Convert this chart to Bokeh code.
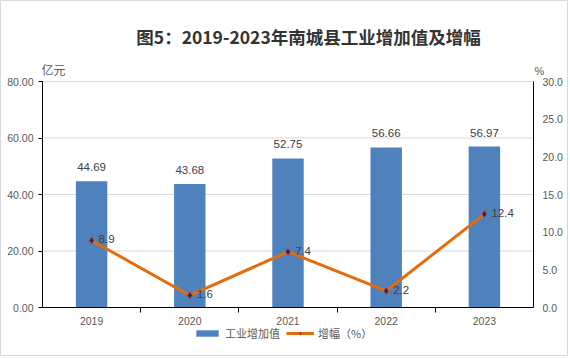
from bokeh.plotting import figure
from bokeh.models import (Range1d, LinearAxis, FixedTicker, Label, Legend, LegendItem,
                          ColumnDataSource, LabelSet)
from bokeh.embed import file_html
from bokeh.resources import INLINE
from bokeh.core.properties import value

years = ["2019", "2020", "2021", "2022", "2023"]
industry = [44.69, 43.68, 52.75, 56.66, 56.97]
growth = [8.9, 1.6, 7.4, 2.2, 12.4]
left_ticks = [0, 20, 40, 60, 80]
right_ticks = [0, 5, 10, 15, 20, 25, 30]

xs = [i + 1 for i in range(len(years))]
src = ColumnDataSource(dict(
    x=xs, year=years, ind=industry, gr=growth,
    ind_lbl=["%.2f" % v for v in industry],
    gr_lbl=["%.1f" % v for v in growth],
))

# layout geometry (pixels in the canvas)
W, H = 568, 356
PX_L, PX_R, PY_T, PY_B = 42, 533, 81, 307
ymax_l, ymax_r = left_ticks[-1], right_ticks[-1]
x0, x1 = 0.5, len(years) + 0.5
xs_per_px = (x1 - x0) / (PX_R - PX_L)
yl_per_px = ymax_l / (PY_B - PY_T)
yr_per_px = ymax_r / (PY_B - PY_T)

NUM_FONT = "Liberation Sans"
CJK_FONT = "Noto Sans CJK SC"
TICK_COLOR = "#595959"
TEXT_COLOR = "#404040"

p = figure(width=W, height=H, output_backend="svg", toolbar_location=None,
           x_range=Range1d(x0 - PX_L * xs_per_px, x1 + (W - PX_R) * xs_per_px),
           y_range=Range1d(-(H - PY_B) * yl_per_px, ymax_l + PY_T * yl_per_px),
           min_border_left=0, min_border_right=0, min_border_top=0, min_border_bottom=0,
           x_axis_location=None, y_axis_location=None)
p.extra_y_ranges = {"pct": Range1d(-(H - PY_B) * yr_per_px, ymax_r + PY_T * yr_per_px)}
p.outline_line_color = "#d9d9d9"
p.xgrid.visible = False
p.ygrid.visible = False
p.background_fill_color = "white"
p.border_fill_color = "white"

# gridlines
p.segment(x0=[x0] * 4, x1=[x1] * 4, y0=left_ticks[1:], y1=left_ticks[1:],
          line_color="#d9d9d9", line_width=1)

# left axis
ly = LinearAxis(ticker=FixedTicker(ticks=left_ticks, minor_ticks=[]),
                fixed_location=x0, bounds=(0, ymax_l))
ly.major_label_overrides = {t: "%.2f" % t for t in left_ticks}
ly.major_tick_out = 4
ly.major_tick_in = 0
ly.minor_tick_out = 0
ly.major_label_standoff = 5
ly.axis_line_color = "#000000"
ly.major_tick_line_color = "#000000"
ly.major_label_text_font = NUM_FONT
ly.major_label_text_font_size = "10.5px"
ly.major_label_text_color = TICK_COLOR
p.add_layout(ly, "left")

# right axis
ry = LinearAxis(y_range_name="pct", ticker=FixedTicker(ticks=right_ticks, minor_ticks=[]),
                fixed_location=x1, bounds=(0, ymax_r))
ry.major_label_overrides = {t: "%.1f" % t for t in right_ticks}
ry.major_tick_out = 0
ry.major_tick_in = 0
ry.minor_tick_out = 0
ry.major_label_standoff = 9
ry.axis_line_color = "#000000"
ry.major_label_text_font = NUM_FONT
ry.major_label_text_font_size = "10.5px"
ry.major_label_text_color = TICK_COLOR
p.add_layout(ry, "right")

# bottom axis: labels at centers, ticks at boundaries
bx = LinearAxis(ticker=FixedTicker(ticks=xs, minor_ticks=[v + 0.5 for v in xs[:-1]]),
                fixed_location=0, bounds=(x0, x1))
bx.major_label_overrides = {x: y for x, y in zip(xs, years)}
bx.major_tick_out = 0
bx.major_tick_in = 0
bx.minor_tick_out = 5
bx.minor_tick_in = 0
bx.minor_tick_line_color = "#000000"
bx.axis_line_color = "#000000"
bx.major_label_standoff = 4
bx.major_label_text_font = NUM_FONT
bx.major_label_text_font_size = "10.5px"
bx.major_label_text_color = TICK_COLOR
p.add_layout(bx, "below")

bars = p.vbar(x="x", top="ind", width=0.32, source=src, fill_color="#4F81BD", line_color=None)
line = p.line(x="x", y="gr", source=src, y_range_name="pct", line_color="#E46C0A", line_width=3)
pts = p.scatter(x="x", y="gr", source=src, y_range_name="pct", marker="diamond", size=8,
                fill_color="#1F2D5A", line_color="#D0505A", line_width=1)

p.add_layout(LabelSet(x="x", y="ind", text="ind_lbl", source=src, text_align="center",
                      text_baseline="middle", y_offset=14, text_font=value(NUM_FONT),
                      text_font_size="11.5px", text_color=TEXT_COLOR))
p.add_layout(LabelSet(x="x", y="gr", text="gr_lbl", source=src, y_range_name="pct",
                      text_align="left", text_baseline="middle", x_offset=7, y_offset=1,
                      text_font=value(NUM_FONT), text_font_size="11.5px", text_color=TEXT_COLOR))

# title and unit labels (screen units, origin at bottom-left of the canvas-sized frame)
p.add_layout(Label(x=308, y=H - 36, x_units="screen", y_units="screen",
                   text="图5：2019-2023年南城县工业增加值及增幅", text_align="center",
                   text_baseline="middle", text_font=CJK_FONT, text_font_size="17.5px",
                   text_font_style="bold", text_color="#333333"))
p.add_layout(Label(x=41, y=H - 69, x_units="screen", y_units="screen", text="亿元",
                   text_align="left", text_baseline="middle", text_font=CJK_FONT,
                   text_font_size="12px", text_color=TICK_COLOR))
p.add_layout(Label(x=534, y=H - 70, x_units="screen", y_units="screen", text="%",
                   text_align="left", text_baseline="middle", text_font=NUM_FONT,
                   text_font_size="11px", text_color=TICK_COLOR))

legend = Legend(items=[LegendItem(label="工业增加值", renderers=[bars]),
                       LegendItem(label="增幅（%）", renderers=[line, pts])],
                orientation="horizontal", location=(193, H - 341),
                label_text_font=CJK_FONT, label_text_font_size="11px",
                label_text_color=TICK_COLOR, glyph_width=28, glyph_height=8,
                label_height=16, label_standoff=4, spacing=6, padding=0, margin=0,
                border_line_color=None, background_fill_alpha=0)
p.add_layout(legend, "center")

open("out.html", "w").write(file_html(p, INLINE))
